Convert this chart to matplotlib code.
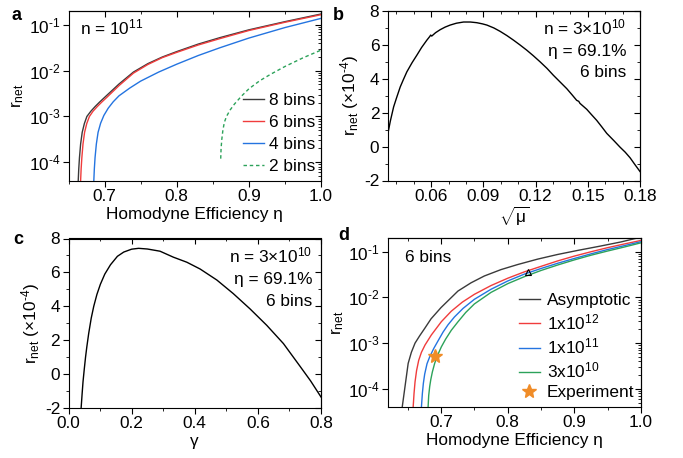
import numpy as np
import matplotlib
matplotlib.use("Agg")
import matplotlib.pyplot as plt
from matplotlib.ticker import MultipleLocator, LogLocator, NullFormatter, FixedLocator, FixedFormatter

plt.rcParams['font.family'] = ['Liberation Sans', 'DejaVu Sans']
plt.rcParams['mathtext.fontset'] = 'custom'
plt.rcParams['mathtext.rm'] = 'Liberation Sans'
plt.rcParams['mathtext.it'] = 'Liberation Sans:italic'
plt.rcParams['mathtext.sf'] = 'Liberation Sans'
plt.rcParams['axes.unicode_minus'] = False
FS = 12.4
plt.rcParams['font.size'] = FS

# ---------------- data: panel a (n = 1e11) ----------------
eta_8 = [0.6635, 0.6642, 0.6652, 0.6668, 0.669, 0.672, 0.6755, 0.681, 0.687, 0.693, 0.70, 0.72, 0.74,
         0.76, 0.78, 0.80, 0.83, 0.86, 0.90, 0.95, 1.0]
r_8 = [4.0e-5, 7.1e-5, 1.26e-4, 2.5e-4, 4.5e-4, 7.0e-4, 1.0e-3, 1.3e-3, 1.65e-3, 2.05e-3, 2.6e-3, 5.1e-3, 9.3e-3,
       1.42e-2, 1.98e-2, 2.6e-2, 3.8e-2, 5.25e-2, 7.76e-2, 1.17e-1, 1.72e-1]
eta_6 = [0.6668, 0.6675, 0.6685, 0.6701, 0.6723, 0.6753, 0.679, 0.684, 0.690, 0.696, 0.703, 0.72, 0.74,
         0.76, 0.78, 0.80, 0.83, 0.86, 0.90, 0.95, 1.0]
r_6 = [4.0e-5, 7.1e-5, 1.26e-4, 2.5e-4, 4.5e-4, 7.0e-4, 1.0e-3, 1.3e-3, 1.65e-3, 2.05e-3, 2.6e-3, 4.7e-3, 8.8e-3,
       1.36e-2, 1.92e-2, 2.5e-2, 3.63e-2, 5.0e-2, 7.5e-2, 1.135e-1, 1.66e-1]
eta_4 = [0.6851, 0.6858, 0.6868, 0.6886, 0.691, 0.6945, 0.699, 0.705, 0.712, 0.72, 0.735, 0.75, 0.775,
         0.80, 0.83, 0.86, 0.90, 0.95, 1.0]
r_4 = [4.0e-5, 7.1e-5, 1.26e-4, 2.5e-4, 4.5e-4, 7.1e-4, 1.05e-3, 1.51e-3, 2.09e-3, 2.82e-3, 4.17e-3, 5.9e-3, 9.3e-3,
       1.38e-2, 2.14e-2, 3.16e-2, 5.13e-2, 8.7e-2, 1.38e-1]
eta_2 = [0.861, 0.8615, 0.8625, 0.864, 0.866, 0.869, 0.874, 0.88, 0.89, 0.90, 0.915, 0.93, 0.95, 0.975, 1.0]
r_2 = [1.2e-4, 2.0e-4, 3.16e-4, 5.0e-4, 7.4e-4, 1.0e-3, 1.38e-3, 1.86e-3, 2.8e-3, 4.0e-3, 6.0e-3, 8.3e-3,
       1.23e-2, 1.9e-2, 2.8e-2]
labels_a = ['8 bins', '6 bins', '4 bins', '2 bins']

# ---------------- data: panel b (r_net vs sqrt(mu)) ----------------
sqrt_mu = [0.0351, 0.0365, 0.0384, 0.0400, 0.0422, 0.0440, 0.0460, 0.0490, 0.0518, 0.0545, 0.0575, 0.0592,
           0.0597, 0.0603, 0.0625, 0.0652, 0.0680, 0.0709, 0.0745, 0.0786, 0.0825, 0.0862, 0.0895, 0.0920,
           0.0960, 0.0996, 0.1035, 0.1073, 0.1110, 0.1149, 0.1187, 0.1226, 0.1265, 0.1302, 0.1340, 0.1379,
           0.1410, 0.1436, 0.1448, 0.1455, 0.1494, 0.1520, 0.1551, 0.1580, 0.1609, 0.1650, 0.1685, 0.1715,
           0.1743, 0.1770, 0.1800]
r_mu = [0.76, 1.5, 2.34, 2.85, 3.52, 3.95, 4.41, 4.95, 5.40, 5.85, 6.28, 6.50,
        6.58, 6.52, 6.72, 6.90, 7.05, 7.17, 7.28, 7.35, 7.35, 7.31, 7.24, 7.17,
        7.00, 6.80, 6.55, 6.28, 6.00, 5.69, 5.36, 5.00, 4.62, 4.21, 3.82, 3.42,
        3.05, 2.73, 2.67, 2.55, 2.20, 1.90, 1.55, 1.17, 0.78, 0.35, -0.03, -0.33,
        -0.66, -1.05, -1.47]

# ---------------- data: panel c (r_net vs gamma) ----------------
gamma = [0.040, 0.043, 0.046, 0.050, 0.054, 0.058, 0.064, 0.072, 0.080, 0.090, 0.101, 0.115, 0.133, 0.155,
         0.175, 0.200, 0.222, 0.250, 0.290, 0.332, 0.375, 0.417, 0.470, 0.522, 0.575, 0.628, 0.681, 0.734,
         0.767, 0.800]
r_gamma = [-2.0, -1.2, -0.45, 0.3, 1.0, 1.6, 2.4, 3.3, 4.0, 4.7, 5.3, 5.9, 6.45, 6.95,
           7.2, 7.37, 7.42, 7.38, 7.25, 6.9, 6.6, 6.2, 5.55, 4.75, 3.85, 2.88, 1.8, 0.45,
           -0.4, -1.35]

# ---------------- data: panel d (6 bins, finite size) ----------------
eta_asym = [0.6418, 0.6507, 0.6555, 0.661, 0.668, 0.6755, 0.685, 0.700, 0.7254, 0.745, 0.765, 0.790, 0.815,
            0.845, 0.8746, 0.905, 0.939, 0.970, 1.0]
r_asym = [4.0e-5, 3.6e-4, 6.3e-4, 1.0e-3, 1.45e-3, 2.1e-3, 3.4e-3, 6.0e-3, 1.38e-2, 2.09e-2, 2.95e-2, 4.07e-2,
          5.25e-2, 6.9e-2, 8.7e-2, 1.07e-1, 1.33e-1, 1.64e-1, 2.09e-1]
eta_1e12 = [0.6582, 0.6595, 0.661, 0.6633, 0.6665, 0.6706, 0.676, 0.6855, 0.7005, 0.7154, 0.732, 0.750, 0.775,
            0.800, 0.825, 0.850, 0.875, 0.8995, 0.925, 0.949, 0.975, 1.0]
r_1e12 = [4.0e-5, 7.9e-5, 1.41e-4, 2.5e-4, 4.2e-4, 6.3e-4, 9.1e-4, 1.51e-3, 2.95e-3, 5.0e-3, 7.9e-3, 1.17e-2,
          1.82e-2, 2.63e-2, 3.63e-2, 4.79e-2, 6.3e-2, 8.0e-2, 1.0e-1, 1.22e-1, 1.48e-1, 1.77e-1]
eta_1e11 = [0.6706, 0.672, 0.6735, 0.6755, 0.679, 0.683, 0.689, 0.6955, 0.703, 0.7104, 0.720, 0.733, 0.750,
            0.775, 0.800, 0.825, 0.850, 0.875, 0.8995, 0.925, 0.949, 0.975, 1.0]
r_1e11 = [4.0e-5, 7.9e-5, 1.32e-4, 2.1e-4, 3.55e-4, 5.0e-4, 7.6e-4, 1.12e-3, 1.74e-3, 2.51e-3, 3.72e-3, 5.75e-3,
          9.1e-3, 1.51e-2, 2.29e-2, 3.24e-2, 4.3e-2, 5.6e-2, 7.1e-2, 9.0e-2, 1.11e-1, 1.36e-1, 1.66e-1]
eta_3e10 = [0.6806, 0.6815, 0.683, 0.6846, 0.687, 0.6905, 0.695, 0.7005, 0.707, 0.7154, 0.725, 0.737, 0.750,
            0.775, 0.800, 0.825, 0.850, 0.875, 0.8995, 0.925, 0.949, 0.975, 1.0]
r_3e10 = [4.0e-5, 7.1e-5, 1.12e-4, 1.58e-4, 2.34e-4, 3.63e-4, 5.5e-4, 8.3e-4, 1.23e-3, 1.91e-3, 2.88e-3, 4.68e-3,
          7.2e-3, 1.29e-2, 2.0e-2, 2.85e-2, 3.89e-2, 5.13e-2, 6.6e-2, 8.4e-2, 1.03e-1, 1.27e-1, 1.57e-1]
eta_exp = [0.691]
r_exp = [5.2e-4]
eta_tri = [0.8307]
r_tri = [3.6e-2]
labels_d = ['Asymptotic', '1x10$^{12}$', '1x10$^{11}$', '3x10$^{10}$', 'Experiment']

log_ticks = [1e-4, 1e-3, 1e-2, 1e-1]
log_ticklabels = [r'10$^{\text{-}4}$', r'10$^{\text{-}3}$', r'10$^{\text{-}2}$', r'10$^{\text{-}1}$']

c_black = '#3a3a3a'
c_red = '#f03c3c'
c_blue = '#2474e0'
c_green = '#2ca25a'
c_orange = '#f08c28'

fig = plt.figure(figsize=(6.83, 4.58), dpi=100)
W, H = 683, 458
def add_ax(l, r, t, b):
    return fig.add_axes([l / W, 1 - b / H, (r - l) / W, (b - t) / H])

ax_a = add_ax(68.5, 321, 11, 180.5)
ax_b = add_ax(387.7, 640, 11, 180.5)
ax_c = add_ax(68.5, 321, 238.5, 408)
ax_d = add_ax(387.7, 641, 238, 407)

def px_text(ax, x, y, s, ha='left'):
    ax.text(x / W, 1 - y / H, s, transform=fig.transFigure, fontsize=FS, ha=ha, va='baseline')

def style(ax, xminor, yminor=None, log=False):
    ax.tick_params(which='major', direction='out', length=4, width=0.8, labelsize=FS, pad=2)
    ax.tick_params(which='minor', direction='out', length=2, width=0.6)
    ax.xaxis.set_minor_locator(MultipleLocator(xminor))
    if not log:
        ax.yaxis.set_minor_locator(MultipleLocator(yminor))
    else:
        ax.yaxis.set_minor_locator(FixedLocator([]))
        ax.yaxis.set_major_locator(FixedLocator(log_ticks))
        ax.yaxis.set_major_formatter(FixedFormatter(log_ticklabels))
    for s in ax.spines.values():
        s.set_linewidth(0.8)
    top = ax.secondary_xaxis('top')
    top.tick_params(which='major', direction='in', length=4, width=0.8, labeltop=False)
    top.tick_params(which='minor', direction='in', length=2, width=0.6)
    top.xaxis.set_major_locator(FixedLocator(ax.get_xticks()))
    top.xaxis.set_minor_locator(MultipleLocator(xminor))
    top.spines['top'].set_linewidth(0.8)
    right = ax.secondary_yaxis('right')
    right.tick_params(which='major', direction='in', length=4, width=0.8, labelright=False)
    right.tick_params(which='minor', direction='in', length=2, width=0.6)
    if not log:
        right.yaxis.set_major_locator(FixedLocator(ax.get_yticks()))
        right.yaxis.set_minor_locator(MultipleLocator(yminor))
    else:
        right.yaxis.set_major_locator(LogLocator(base=10, numticks=20))
        right.yaxis.set_minor_locator(LogLocator(base=10, subs=np.arange(2, 10), numticks=20))
        right.yaxis.set_minor_formatter(NullFormatter())
    right.spines['right'].set_linewidth(0.8)

# ---- panel a ----
ax = ax_a
ax.set_yscale('log')
ax.plot(eta_8, r_8, color=c_black, lw=1.0, label=labels_a[0])
ax.plot(eta_6, r_6, color=c_red, lw=1.0, label=labels_a[1])
ax.plot(eta_4, r_4, color=c_blue, lw=1.0, label=labels_a[2])
ax.plot(eta_2, r_2, color=c_green, lw=1.0, ls=(0, (2.5, 2)), label=labels_a[3])
ax.set_xlim(0.65, 1.0)
ax.set_ylim(4e-5, 0.2)
ax.set_xticks([0.7, 0.8, 0.9, 1.0])
ax.set_xlabel('Homodyne Efficiency η', fontsize=FS, labelpad=2)
ax.set_ylabel(r'r$_{\rm net}$', fontsize=FS, labelpad=2)
px_text(ax, 80, 34, r'n = 10$^{11}$')
ax.legend(loc='lower right', frameon=False, fontsize=FS, handlelength=1.2, handletextpad=0.3,
          labelspacing=0.42, borderaxespad=0.15, borderpad=0.2)
style(ax, 0.05, log=True)

# ---- panel b ----
ax = ax_b
ax.plot(sqrt_mu, r_mu, color='black', lw=1.0)
ax.set_xlim(0.035, 0.18)
ax.set_ylim(-2, 8)
ax.set_xticks([0.06, 0.09, 0.12, 0.15, 0.18])
ax.set_yticks([-2, 0, 2, 4, 6, 8])
ax.set_xlabel(r'$\sqrt{\mathrm{μ}}$', fontsize=FS, labelpad=1)
ax.set_ylabel(r'r$_{\rm net}$ (×10$^{\text{-}4}$)', fontsize=FS, labelpad=2)
px_text(ax, 626, 34, 'n = 3×10$^{10}$', ha='right')
px_text(ax, 626, 56, 'η = 69.1%', ha='right')
px_text(ax, 626, 77, '6 bins', ha='right')
style(ax, 0.01, 1)

# ---- panel c ----
ax = ax_c
ax.plot(gamma, r_gamma, color='black', lw=1.0)
ax.set_xlim(0.0, 0.8)
ax.set_ylim(-2, 8)
ax.set_xticks([0.0, 0.2, 0.4, 0.6, 0.8])
ax.set_yticks([-2, 0, 2, 4, 6, 8])
ax.set_xlabel('γ', fontsize=FS, labelpad=2)
ax.set_ylabel(r'r$_{\rm net}$ (×10$^{\text{-}4}$)', fontsize=FS, labelpad=2)
px_text(ax, 312, 262, 'n = 3×10$^{10}$', ha='right')
px_text(ax, 312, 284, 'η = 69.1%', ha='right')
px_text(ax, 312, 305.5, '6 bins', ha='right')
style(ax, 0.1, 1)

# ---- panel d ----
ax = ax_d
ax.set_yscale('log')
ax.plot(eta_asym, r_asym, color=c_black, lw=1.0, label=labels_d[0])
ax.plot(eta_1e12, r_1e12, color=c_red, lw=1.0, label=labels_d[1])
ax.plot(eta_1e11, r_1e11, color=c_blue, lw=1.0, label=labels_d[2])
ax.plot(eta_3e10, r_3e10, color=c_green, lw=1.0, label=labels_d[3])
ax.plot(eta_exp, r_exp, ls='none', marker='*', ms=10, color=c_orange, label=labels_d[4])
ax.plot(eta_tri, r_tri, ls='none', marker='^', ms=4, mfc='none', mec='black', mew=0.8)
ax.set_xlim(0.62, 1.0)
ax.set_ylim(4e-5, 0.2)
ax.set_xticks([0.7, 0.8, 0.9, 1.0])
ax.set_xlabel('Homodyne Efficiency η', fontsize=FS, labelpad=2)
ax.set_ylabel(r'r$_{\rm net}$', fontsize=FS, labelpad=1)
px_text(ax, 405, 262, '6 bins')
ax.legend(loc='lower right', frameon=False, fontsize=FS, handlelength=1.2, handletextpad=0.4,
          labelspacing=0.25, borderaxespad=0.2, borderpad=0.2)
style(ax, 0.05, log=True)

# panel letters
for lbl, x, y in [('a', 17, 16), ('b', 338, 15), ('c', 18, 239), ('d', 344, 236)]:
    fig.text(x / W, 1 - y / H, lbl, fontsize=13, fontweight='bold', va='center', ha='center')

fig.savefig('out.png', dpi=100)
